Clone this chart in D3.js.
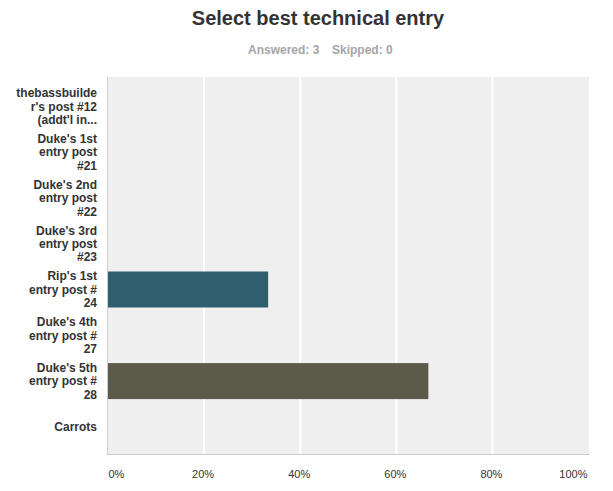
<!DOCTYPE html>
<html lang="en">
<head>
    <meta charset="UTF-8">
    <title>Select best technical entry</title>
    <style>
        body {
            margin: 0;
            background: #ffffff;
            font-family: "Liberation Sans", Arial, sans-serif;
        }
        .title {
            font-size: 20px;
            font-weight: bold;
            fill: #333333;
        }
        .subtitle {
            font-size: 12px;
            font-weight: bold;
            fill: #a6a6a6;
        }
        .y-label text {
            font-size: 12px;
            font-weight: bold;
            fill: #333333;
        }
        .x-axis text {
            font-size: 11px;
            fill: #333333;
        }
    </style>
</head>
<body>
    <div id="chart"></div>

    <script src="https://d3js.org/d3.v7.min.js"></script>
    <script>
        // Answer choices (as wrapped on the chart) and their share of responses
        const categories = [
            "thebassbuilder's post #12",
            "Duke's 1st entry post #21",
            "Duke's 2nd entry post #22",
            "Duke's 3rd entry post #23",
            "Rip's 1st entry post # 24",
            "Duke's 4th entry post # 27",
            "Duke's 5th entry post # 28",
            "Carrots"
        ];
        const labelLines = [
            ["thebassbuilde", "r's post #12", "(addt'l in..."],
            ["Duke's 1st", "entry post", "#21"],
            ["Duke's 2nd", "entry post", "#22"],
            ["Duke's 3rd", "entry post", "#23"],
            ["Rip's 1st", "entry post #", "24"],
            ["Duke's 4th", "entry post #", "27"],
            ["Duke's 5th", "entry post #", "28"],
            ["Carrots"]
        ];
        const percents = [0, 0, 0, 0, 33.33, 0, 66.67, 0];
        const xTicks = [0, 20, 40, 60, 80, 100];
        const answered = 3;
        const skipped = 0;

        const width = 613;
        const height = 491;

        const svg = d3.select('#chart')
            .append('svg')
            .attr('width', width)
            .attr('height', height);

        // Scales
        const x = d3.scaleLinear()
            .domain([0, 100])
            .range([108, 588.5]);

        const y = d3.scaleBand()
            .domain(categories)
            .range([83.4, 449.8])
            .paddingInner(0.214)
            .paddingOuter(0.107);

        const color = d3.scaleOrdinal()
            .domain(categories)
            .range(['#2f5f6f', '#2f5f6f', '#2f5f6f', '#2f5f6f', '#2f5f6f', '#2f5f6f', '#5b5a4b', '#2f5f6f']);

        // Title block
        svg.append('text')
            .attr('class', 'title')
            .attr('x', 318)
            .attr('y', 25)
            .attr('text-anchor', 'middle')
            .text('Select best technical entry');

        svg.append('text')
            .attr('class', 'subtitle')
            .attr('x', 248)
            .attr('y', 54)
            .text(`Answered: ${answered}`);

        svg.append('text')
            .attr('class', 'subtitle')
            .attr('x', 332)
            .attr('y', 54)
            .text(`Skipped: ${skipped}`);

        // Plot background
        svg.append('rect')
            .attr('x', 107)
            .attr('y', 77)
            .attr('width', 589 - 107)
            .attr('height', 454 - 77)
            .attr('fill', '#efefef');

        // Vertical grid lines
        svg.append('g')
            .selectAll('line')
            .data(xTicks.slice(1, -1))
            .enter()
            .append('line')
            .attr('x1', d => x(d))
            .attr('x2', d => x(d))
            .attr('y1', 77)
            .attr('y2', 454)
            .attr('stroke', '#ffffff')
            .attr('stroke-width', 2);

        // Bars
        svg.append('g')
            .selectAll('rect')
            .data(categories)
            .enter()
            .append('rect')
            .attr('x', x(0))
            .attr('y', d => y(d))
            .attr('width', (d, i) => x(percents[i]) - x(0))
            .attr('height', y.bandwidth())
            .attr('fill', d => color(d));

        // Axis lines
        svg.append('line')
            .attr('x1', 107.5).attr('x2', 107.5)
            .attr('y1', 77).attr('y2', 454.5)
            .attr('stroke', '#cccccc');

        svg.append('line')
            .attr('x1', 107).attr('x2', 590)
            .attr('y1', 454.5).attr('y2', 454.5)
            .attr('stroke', '#cccccc');

        // X axis labels
        const xAxis = svg.append('g')
            .attr('class', 'x-axis')
            .attr('transform', 'translate(0,470)')
            .call(d3.axisBottom(x).tickValues(xTicks).tickSize(0).tickPadding(0).tickFormat(d => d + '%'));

        xAxis.select('.domain').remove();
        xAxis.selectAll('text')
            .attr('dy', '0.71em')
            .attr('font-family', null)
            .attr('font-size', null)
            .attr('fill', null)
            .attr('text-anchor', (d, i) => i === 0 ? 'start' : (i === xTicks.length - 1 ? 'end' : 'middle'))
            .attr('x', (d, i) => i === 0 ? 0 : (i === xTicks.length - 1 ? -1.5 : -1.5));

        // Y axis labels (wrapped)
        const yAxis = svg.append('g')
            .attr('class', 'y-label')
            .attr('transform', 'translate(97,0)')
            .call(d3.axisLeft(y).tickSize(0).tickPadding(0).tickFormat(''));

        yAxis.select('.domain').remove();
        yAxis.selectAll('.tick text')
            .attr('font-family', null)
            .attr('font-size', null)
            .attr('fill', null)
            .attr('text-anchor', 'end')
            .attr('dy', null)
            .each(function (d, i) {
                const lines = labelLines[i];
                const lineHeight = 13.4;
                const el = d3.select(this);
                lines.forEach((line, j) => {
                    el.append('tspan')
                        .attr('x', 0)
                        .attr('y', (j - (lines.length - 1) / 2) * lineHeight + 4.3)
                        .text(line);
                });
            });
    </script>
</body>
</html>
